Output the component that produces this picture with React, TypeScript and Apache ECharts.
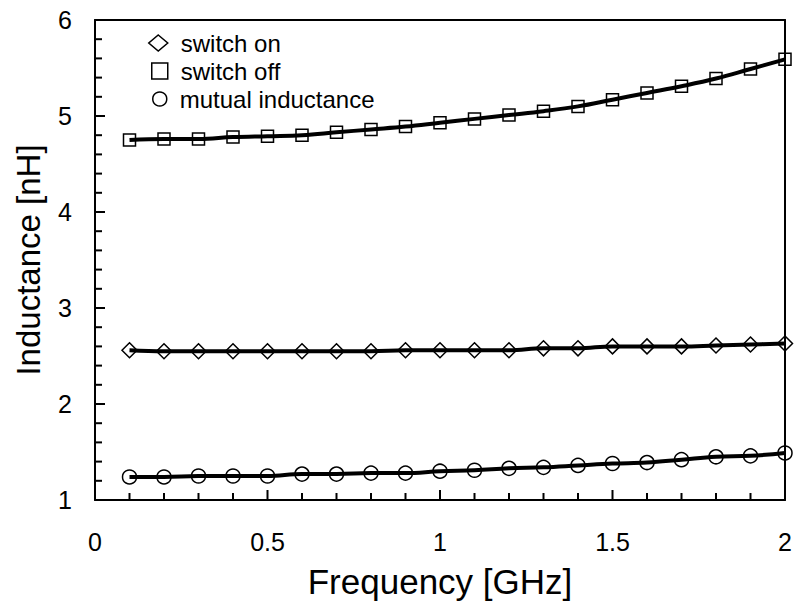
import React, { useEffect, useRef } from "react";
import * as echarts from "echarts";

const frequency = [0.1, 0.2, 0.3, 0.4, 0.5, 0.6, 0.7, 0.8, 0.9, 1.0, 1.1, 1.2, 1.3, 1.4, 1.5, 1.6, 1.7, 1.8, 1.9, 2.0];
const switchOn = [2.56, 2.55, 2.55, 2.55, 2.55, 2.55, 2.55, 2.55, 2.56, 2.56, 2.56, 2.56, 2.58, 2.58, 2.6, 2.6, 2.6, 2.61, 2.62, 2.63];
const switchOff = [4.75, 4.76, 4.76, 4.78, 4.79, 4.8, 4.83, 4.86, 4.89, 4.93, 4.97, 5.01, 5.05, 5.1, 5.17, 5.24, 5.31, 5.39, 5.49, 5.59];
const mutual = [1.24, 1.24, 1.25, 1.25, 1.25, 1.27, 1.27, 1.28, 1.28, 1.3, 1.31, 1.33, 1.34, 1.36, 1.38, 1.39, 1.42, 1.45, 1.46, 1.49];
const seriesNames = ["switch on", "switch off", "mutual inductance"];

// tick positions (major / minor)
const xMajorTicks = [0, 0.5, 1, 1.5, 2];
const xMinorTicks = [0.1, 0.2, 0.3, 0.4, 0.6, 0.7, 0.8, 0.9, 1.1, 1.2, 1.3, 1.4, 1.6, 1.7, 1.8, 1.9];
const yMajorTicks = [1, 2, 3, 4, 5, 6];
const yMinorTicks = [1.2, 1.4, 1.6, 1.8, 2.2, 2.4, 2.6, 2.8, 3.2, 3.4, 3.6, 3.8, 4.2, 4.4, 4.6, 4.8, 5.2, 5.4, 5.6, 5.8];

const X_MIN = 0;
const X_MAX = 2;
const Y_MIN = 1;
const Y_MAX = 6;
const MAJOR_LEN = 10;
const MINOR_LEN = 7;

const FONT = "'Liberation Sans', Arial, sans-serif";

export default function App() {
  const ref = useRef<HTMLDivElement>(null);
  useEffect(() => {
    if (!ref.current) return;
    const chart = echarts.init(ref.current, null, { renderer: "svg" });
    const mk = (vals: number[]) => frequency.map((f, i) => [f, vals[i]]);
    const markerStyle = { color: "rgba(255,255,255,0)", borderColor: "#000", borderWidth: 1.5 };
    const legendBase = (name: string, icon: string, w: number, h: number, left: number, top: number) => ({
      data: [{ name, icon }],
      left,
      top,
      padding: 0,
      itemWidth: w,
      itemHeight: h,
      selectedMode: false,
      itemStyle: { color: "rgba(255,255,255,0)", borderColor: "#000", borderWidth: 1.5 },
      lineStyle: { width: 0, opacity: 0 },
      textStyle: { fontFamily: FONT, fontSize: 24, color: "#000", padding: [0, 0, 0, 8] },
    });
    const axisCommon = {
      axisLine: { show: true, onZero: false, lineStyle: { color: "#000", width: 2 } },
      axisTick: { show: false },
      minorTick: { show: false },
      splitLine: { show: false },
      minorSplitLine: { show: false },
    };
    const boxAxis = {
      type: "value",
      axisLine: { show: true, onZero: false, lineStyle: { color: "#000", width: 2 } },
      axisTick: { show: false },
      minorTick: { show: false },
      axisLabel: { show: false },
      splitLine: { show: false },
    };
    const xTickData = [
      ...xMajorTicks.map((v) => [v, Y_MIN, MAJOR_LEN]),
      ...xMinorTicks.map((v) => [v, Y_MIN, MINOR_LEN]),
    ];
    const yTickData = [
      ...yMajorTicks.map((v) => [X_MIN, v, MAJOR_LEN]),
      ...yMinorTicks.map((v) => [X_MIN, v, MINOR_LEN]),
    ];
    const tickSeries = (data: number[][], vertical: boolean) => ({
      type: "custom",
      data,
      clip: false,
      silent: true,
      z: 2,
      renderItem: (_params: any, api: any) => {
        const p = api.coord([api.value(0), api.value(1)]);
        const len = api.value(2);
        return {
          type: "line",
          shape: vertical
            ? { x1: p[0], y1: p[1], x2: p[0], y2: p[1] - len }
            : { x1: p[0], y1: p[1], x2: p[0] + len, y2: p[1] },
          style: { stroke: "#000", lineWidth: 2 },
        };
      },
    });
    chart.setOption({
      animation: false,
      backgroundColor: "#fff",
      textStyle: { fontFamily: FONT },
      grid: {
        left: 95,
        right: 10,
        top: 20,
        bottom: 108,
        show: false,
      },
      legend: [
        legendBase(seriesNames[0], "diamond", 19, 16, 148, 31),
        legendBase(seriesNames[1], "rect", 16, 16, 151, 59),
        legendBase(seriesNames[2], "circle", 14, 14, 152, 87),
      ],
      xAxis: [
        {
          type: "value",
          position: "bottom",
          min: X_MIN,
          max: X_MAX,
          interval: 0.5,
          name: "Frequency [GHz]",
          nameLocation: "middle",
          nameGap: 64,
          nameTextStyle: { fontFamily: FONT, fontSize: 35, color: "#000" },
          ...axisCommon,
          axisLabel: { margin: 29, fontFamily: FONT, fontSize: 25, color: "#000" },
        },
        { ...boxAxis, position: "top", min: X_MIN, max: X_MAX },
      ],
      yAxis: [
        {
          type: "value",
          position: "left",
          min: Y_MIN,
          max: Y_MAX,
          interval: 1,
          name: "Inductance [nH]",
          nameLocation: "middle",
          nameGap: 50,
          nameTextStyle: { fontFamily: FONT, fontSize: 33, color: "#000" },
          ...axisCommon,
          axisLabel: { margin: 23, fontFamily: FONT, fontSize: 25, color: "#000" },
        },
        { ...boxAxis, position: "right", min: Y_MIN, max: Y_MAX },
      ],
      series: [
        tickSeries(xTickData, true),
        tickSeries(yTickData, false),
        {
          name: seriesNames[0],
          type: "line",
          data: mk(switchOn),
          smooth: 0.4,
          symbol: "diamond",
          symbolSize: 15,
          showAllSymbol: true,
          lineStyle: { color: "#000", width: 4 },
          itemStyle: markerStyle,
          z: 3,
        },
        {
          name: seriesNames[1],
          type: "line",
          data: mk(switchOff),
          smooth: 0.4,
          symbol: "rect",
          symbolSize: 12,
          showAllSymbol: true,
          lineStyle: { color: "#000", width: 4 },
          itemStyle: markerStyle,
          z: 3,
        },
        {
          name: seriesNames[2],
          type: "line",
          data: mk(mutual),
          smooth: 0.4,
          symbol: "circle",
          symbolSize: 14,
          showAllSymbol: true,
          lineStyle: { color: "#000", width: 4 },
          itemStyle: markerStyle,
          z: 3,
        },
      ],
    });
    return () => chart.dispose();
  }, []);
  return <div ref={ref} style={{ width: 795, height: 608, position: "absolute", left: 0, top: 0 }} />;
}
